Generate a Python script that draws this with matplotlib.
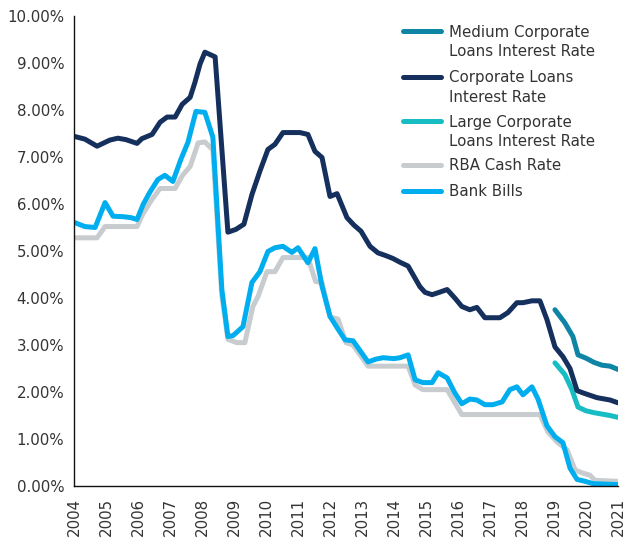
import matplotlib
matplotlib.use("Agg")
import matplotlib.pyplot as plt
from matplotlib.lines import Line2D
from matplotlib.ticker import FuncFormatter

# ---------------- data (decimal years, % values) ----------------
corp_x = [2004.00, 2004.34, 2004.72, 2005.12, 2005.37, 2005.62, 2005.97, 2006.12, 2006.44,
          2006.69, 2006.91, 2007.16, 2007.38, 2007.63, 2007.78, 2007.94, 2008.09, 2008.41,
          2008.81, 2009.06, 2009.31, 2009.56, 2009.81, 2010.06, 2010.28, 2010.53, 2010.78,
          2011.06, 2011.31, 2011.53, 2011.75, 2012.00, 2012.22, 2012.53, 2012.75, 2012.97,
          2013.25, 2013.50, 2013.75, 2013.97, 2014.19, 2014.44, 2014.81, 2014.97, 2015.19,
          2015.41, 2015.66, 2015.90, 2016.12, 2016.37, 2016.59, 2016.84, 2017.09, 2017.31,
          2017.56, 2017.84, 2018.03, 2018.31, 2018.56, 2018.78, 2019.03, 2019.28, 2019.50,
          2019.72, 2019.91, 2020.34, 2020.75, 2021.00]
corp_y = [7.44, 7.38, 7.23, 7.36, 7.40, 7.37, 7.29, 7.39, 7.48,
          7.74, 7.85, 7.85, 8.12, 8.27, 8.59, 8.98, 9.23, 9.13,
          5.40, 5.46, 5.57, 6.20, 6.70, 7.16, 7.27, 7.52, 7.52,
          7.52, 7.48, 7.12, 6.99, 6.16, 6.22, 5.71, 5.55, 5.42,
          5.10, 4.96, 4.90, 4.84, 4.76, 4.68, 4.24, 4.12, 4.07,
          4.12, 4.18, 4.00, 3.82, 3.75, 3.80, 3.58, 3.58, 3.58,
          3.69, 3.90, 3.90, 3.94, 3.94, 3.54, 2.96, 2.75, 2.50,
          2.03, 1.98, 1.88, 1.83, 1.77]

bills_x = [2004.00, 2004.34, 2004.66, 2004.97, 2005.22, 2005.53, 2005.78, 2005.97, 2006.16,
           2006.37, 2006.62, 2006.84, 2007.09, 2007.34, 2007.56, 2007.81, 2008.09, 2008.34,
           2008.62, 2008.81, 2008.97, 2009.28, 2009.56, 2009.81, 2010.06, 2010.28, 2010.53,
           2010.81, 2011.00, 2011.31, 2011.53, 2011.75, 2012.00, 2012.22, 2012.47, 2012.72,
           2012.97, 2013.19, 2013.44, 2013.66, 2014.00, 2014.19, 2014.44, 2014.66, 2014.90,
           2015.19, 2015.38, 2015.66, 2015.90, 2016.12, 2016.37, 2016.59, 2016.84, 2017.09,
           2017.38, 2017.62, 2017.84, 2018.03, 2018.31, 2018.50, 2018.78, 2019.03, 2019.28,
           2019.50, 2019.72, 2019.97, 2020.22, 2020.60, 2021.00]
bills_y = [5.61, 5.52, 5.50, 6.03, 5.74, 5.73, 5.71, 5.67, 5.99,
           6.25, 6.52, 6.61, 6.48, 6.95, 7.31, 7.97, 7.95, 7.42,
           4.18, 3.18, 3.20, 3.39, 4.33, 4.56, 4.99, 5.07, 5.10,
           4.97, 5.07, 4.75, 5.05, 4.25, 3.61, 3.37, 3.11, 3.09,
           2.85, 2.64, 2.70, 2.73, 2.71, 2.73, 2.79, 2.26, 2.20,
           2.20, 2.41, 2.30, 1.98, 1.75, 1.85, 1.83, 1.73, 1.73,
           1.79, 2.05, 2.11, 1.94, 2.11, 1.85, 1.28, 1.05, 0.92,
           0.38, 0.14, 0.10, 0.05, 0.04, 0.03]

rba_x = [2004.00, 2004.72, 2004.97, 2005.97, 2006.16, 2006.44, 2006.69, 2007.16, 2007.38,
         2007.63, 2007.88, 2008.09, 2008.34, 2008.62, 2008.81, 2009.09, 2009.34, 2009.59,
         2009.75, 2010.03, 2010.28, 2010.53, 2011.31, 2011.55, 2011.75, 2012.00, 2012.25,
         2012.50, 2012.72, 2013.19, 2014.44, 2014.66, 2014.90, 2015.66, 2016.12, 2018.56,
         2018.81, 2019.12, 2019.41, 2019.66, 2019.88, 2020.12, 2020.28, 2021.00]
rba_y = [5.28, 5.28, 5.52, 5.52, 5.80, 6.10, 6.33, 6.33, 6.60,
         6.80, 7.30, 7.32, 7.15, 4.05, 3.12, 3.05, 3.05, 3.82,
         4.03, 4.56, 4.56, 4.86, 4.86, 4.35, 4.33, 3.60, 3.55,
         3.05, 3.00, 2.55, 2.55, 2.15, 2.05, 2.05, 1.52, 1.52,
         1.15, 0.92, 0.77, 0.34, 0.28, 0.23, 0.12, 0.10]

medium_x = [2019.03, 2019.34, 2019.59, 2019.75, 2020.00, 2020.25, 2020.50, 2020.75, 2021.00]
medium_y = [3.75, 3.47, 3.18, 2.79, 2.72, 2.63, 2.57, 2.55, 2.48]

large_x = [2019.03, 2019.34, 2019.56, 2019.75, 2020.00, 2020.25, 2020.50, 2020.75, 2021.00]
large_y = [2.62, 2.37, 2.05, 1.68, 1.60, 1.56, 1.53, 1.50, 1.46]

years = list(range(2004, 2022))
y_ticks = [0, 1, 2, 3, 4, 5, 6, 7, 8, 9, 10]

legend_labels = [["Medium Corporate", "Loans Interest Rate"],
                 ["Corporate Loans", "Interest Rate"],
                 ["Large Corporate", "Loans Interest Rate"],
                 ["RBA Cash Rate"],
                 ["Bank Bills"]]

# ---------------- styles ----------------
C_MED = "#0F85A6"
C_CORP = "#15305C"
C_LARGE = "#17BDC2"
C_RBA = "#C8CCCE"
C_BILLS = "#00AEEF"
TXT = "#333333"
LW = 3.6

W, H = 626, 542
fig = plt.figure(figsize=(W / 100, H / 100), dpi=100)
ax = fig.add_axes([74 / W, (H - 486) / H, 544 / W, (486 - 16) / H])

kw = dict(lw=LW, solid_capstyle="round", solid_joinstyle="round")
ax.plot(rba_x, rba_y, color=C_RBA, **kw)
ax.plot(bills_x, bills_y, color=C_BILLS, **kw)
ax.plot(medium_x, medium_y, color=C_MED, **kw)
ax.plot(large_x, large_y, color=C_LARGE, **kw)
ax.plot(corp_x, corp_y, color=C_CORP, **kw)

ax.set_xlim(2004, 2021)
ax.set_ylim(0, 10)
ax.set_xticks(years)
ax.set_xticklabels([str(y) for y in years], rotation=90, fontsize=10.8, color=TXT)
ax.set_yticks(y_ticks)
ax.yaxis.set_major_formatter(FuncFormatter(lambda v, p: f"{v:.2f}%"))
ax.tick_params(axis="y", length=0, pad=7, labelsize=10.8, labelcolor=TXT)
ax.tick_params(axis="x", length=0, pad=8.5)
for s in ["top", "right"]:
    ax.spines[s].set_visible(False)
for s in ["left", "bottom"]:
    ax.spines[s].set_color("#111111")
    ax.spines[s].set_linewidth(1.0)

# ---------------- legend (manual, handle aligned with first text line) ----------------
colors = [C_MED, C_CORP, C_LARGE, C_RBA, C_BILLS]
handle_y = [30.5, 76.5, 120.5, 165, 190.5]
baselines = [[37, 56.5], [82, 101.5], [126.5, 145.5], [170.5], [196.5]]
for col, hy, lines, bls in zip(colors, handle_y, legend_labels, baselines):
    fig.add_artist(Line2D([403 / W, 441 / W], [1 - hy / H, 1 - hy / H],
                          transform=fig.transFigure, color=col, lw=LW,
                          solid_capstyle="round"))
    for txt, b in zip(lines, bls):
        fig.text(449 / W, 1 - b / H, txt, fontsize=10.8, color=TXT,
                 ha="left", va="baseline")

fig.savefig("out.png", dpi=100)
